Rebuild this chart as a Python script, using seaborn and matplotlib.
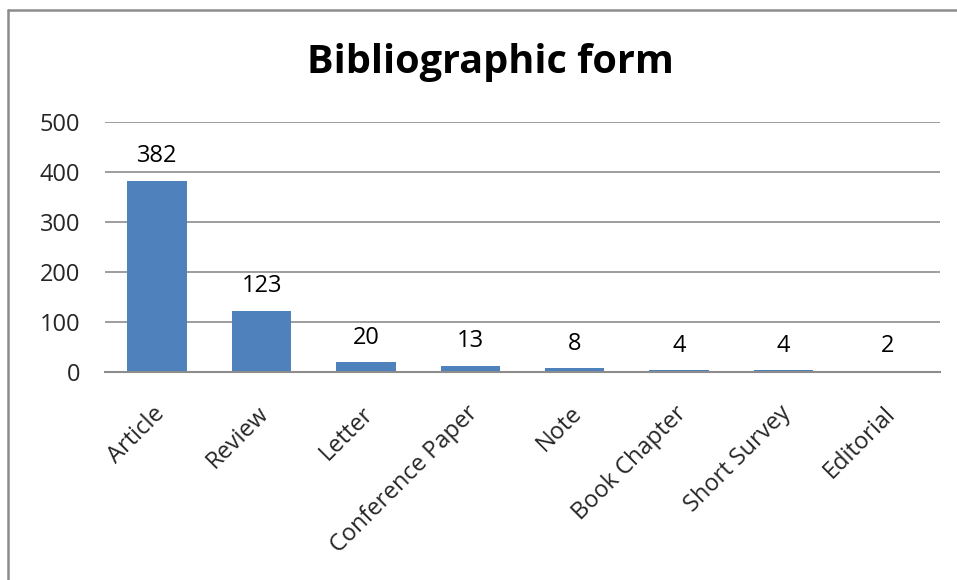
import matplotlib
matplotlib.use("Agg")
import matplotlib.pyplot as plt
from matplotlib.lines import Line2D
from matplotlib.transforms import ScaledTranslation
import seaborn as sns
import pandas as pd

categories = ["Article", "Review", "Letter", "Conference Paper", "Note",
              "Book Chapter", "Short Survey", "Editorial"]
counts = [382, 123, 20, 13, 8, 4, 4, 2]
y_ticks = [0, 100, 200, 300, 400, 500]

sns.set_theme(style="white")
plt.rcParams["font.family"] = ["Open Sans", "DejaVu Sans"]

df = pd.DataFrame({"form": categories, "count": counts})

fig = plt.figure(figsize=(9.57, 5.8), dpi=100)
W, H = 957, 580
ax = fig.add_axes([105 / W, 1 - 372 / H, (940 - 105) / W, (372 - 122) / H])

sns.barplot(data=df, x="form", y="count", color="#4F81BD", saturation=1,
            width=0.57, ax=ax, edgecolor="none")

ax.set_ylim(0, 500)
ax.set_xlim(-0.5, len(categories) - 0.5)
ax.set_yticks(y_ticks)
ax.set_yticklabels([str(v) for v in y_ticks], fontsize=17)
ax.yaxis.grid(True, color="#8c8c8c", linewidth=1.2)
ax.set_axisbelow(True)
for s in ["top", "right", "left"]:
    ax.spines[s].set_visible(False)
ax.spines["bottom"].set_color("#8c8c8c")
ax.spines["bottom"].set_linewidth(1.5)
ax.tick_params(axis="both", length=0)
ax.tick_params(axis="y", pad=18)
ax.tick_params(axis="x", pad=0)
ax.set_xlabel("")
ax.set_ylabel("")
ax.set_xticks(range(len(categories)))
ax.set_xticklabels(categories, rotation=45, ha="right", va="center",
                   rotation_mode="anchor", fontsize=17)
shift = ScaledTranslation(4 / 100, -38 / 100, fig.dpi_scale_trans)
for lbl in ax.get_xticklabels():
    lbl.set_transform(lbl.get_transform() + shift)

for i, v in enumerate(counts):
    ax.annotate(str(v), (i, v), xytext=(0, 9), textcoords="offset points",
                ha="center", va="bottom", fontsize=17, color="black")

fig.text(490 / W, 1 - 62 / H, "Bibliographic form", ha="center", va="center",
         fontsize=28.5, fontweight="bold", color="black")

# chart frame
fig.add_artist(Line2D([8 / W, 8 / W], [0, 1 - 10 / H], transform=fig.transFigure,
                      color="#8c8c8c", linewidth=1.8))
fig.add_artist(Line2D([8 / W, 1], [1 - 10 / H, 1 - 10 / H], transform=fig.transFigure,
                      color="#8c8c8c", linewidth=1.8))

fig.savefig("out.png", dpi=100, facecolor="white")
